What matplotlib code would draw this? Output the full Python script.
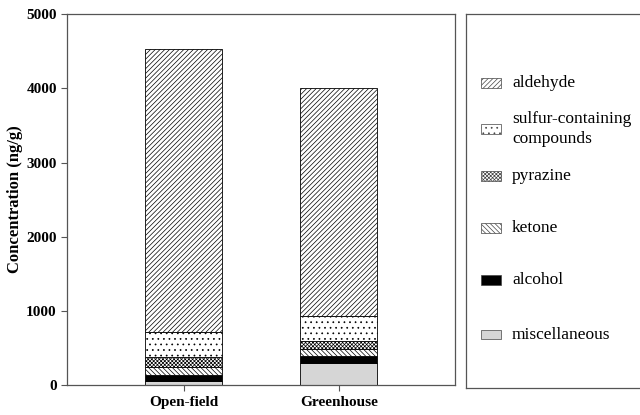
import numpy as np
import matplotlib.pyplot as plt
from matplotlib.patches import Rectangle

plt.rcParams['font.family'] = ['Liberation Serif', 'DejaVu Serif']
plt.rcParams['hatch.linewidth'] = 0.5

sites = ["Open-field", "Greenhouse"]
# stacking order, bottom to top
classes = ["miscellaneous", "alcohol", "ketone", "pyrazine",
           "sulfur-containing\ncompounds", "aldehyde"]
miscellaneous = [60, 300]
alcohol = [75, 90]
ketone = [105, 95]
pyrazine = [135, 110]
sulfur = [340, 340]
aldehyde = [3815, 3075]
values = [miscellaneous, alcohol, ketone, pyrazine, sulfur, aldehyde]

styles = [
    dict(color="#d6d6d6", hatch=""),
    dict(color="black", hatch=""),
    dict(color="white", hatch="\\\\\\\\\\\\\\"),
    dict(color="white", hatch="xxxxxxxxx"),
    dict(color="white", hatch="..."),
    dict(color="white", hatch="///////"),
]

fig = plt.figure(figsize=(6.4, 4.15), dpi=100)
ax = fig.add_axes([0.105, 0.072, 0.606, 0.894])

x = np.arange(len(sites))
bottom = np.zeros(len(sites))
for vals, st in zip(values, styles):
    ax.bar(x, vals, 0.5, bottom=bottom, color=st["color"], hatch=st["hatch"],
           edgecolor="black", linewidth=0.6)
    bottom += np.array(vals)

ax.set_xlim(-0.75, 1.75)
ax.set_ylim(0, 5000)
ax.set_yticks([0, 1000, 2000, 3000, 4000, 5000])
ax.set_xticks(x)
ax.set_xticklabels(sites, fontweight="bold", fontsize=11)
for lab in ax.get_yticklabels():
    lab.set_fontweight("bold")
    lab.set_fontsize(11)
ax.set_ylabel("Concentration (ng/g)", fontweight="bold", fontsize=12, labelpad=2)
for sp in ax.spines.values():
    sp.set_color("#555555")
    sp.set_linewidth(0.9)
ax.tick_params(colors="#555555", labelcolor="black", length=4)

# legend panel (right edge runs off the figure)
lax = fig.add_axes([0.728, 0.066, 0.285, 0.9])
lax.set_xlim(0, 1)
lax.set_ylim(0, 1)
lax.set_xticks([])
lax.set_yticks([])
for sp in lax.spines.values():
    sp.set_color("#555555")
    sp.set_linewidth(0.9)

ys = [0.816, 0.692, 0.567, 0.428, 0.289, 0.142]
order = [5, 4, 3, 2, 1, 0]
for yy, i in zip(ys, order):
    st = styles[i]
    lax.add_patch(Rectangle((0.084, yy - 0.013), 0.108, 0.026, facecolor=st["color"],
                            hatch=st["hatch"], edgecolor="#444444", linewidth=0.5))
    lax.text(0.253, yy, classes[i], va="center", ha="left", fontsize=12.5,
             linespacing=1.3)

fig.savefig("out.png", dpi=100)
